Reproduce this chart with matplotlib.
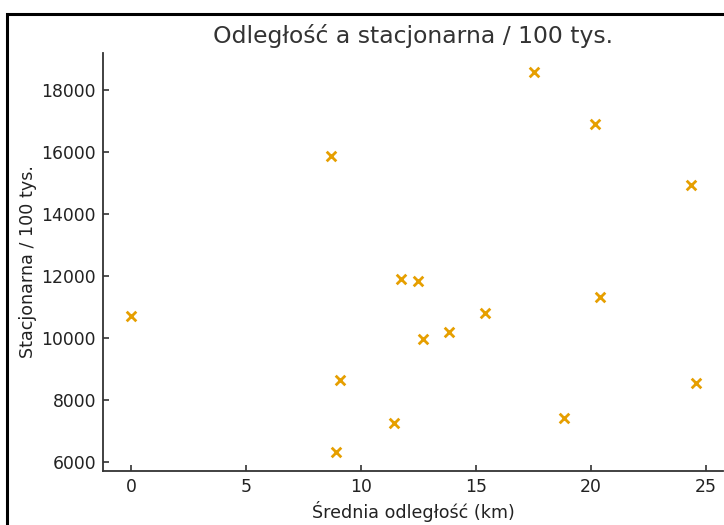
import matplotlib
matplotlib.use("Agg")
import matplotlib.pyplot as plt
from matplotlib.patches import Rectangle

plt.rcParams["font.family"] = ["DejaVu Sans"]

odleglosc = [0.0, 8.70, 9.09, 8.91, 11.42, 11.74, 12.48, 12.70, 13.83, 15.38,
             17.52, 18.84, 20.17, 20.41, 24.35, 24.57]
stacjonarna = [10710, 15870, 8645, 6323, 7268, 11913, 11850, 9968, 10203, 10806,
               18590, 7430, 16894, 11323, 14945, 8558]
xticks = [0, 5, 10, 15, 20, 25]
yticks = [6000, 8000, 10000, 12000, 14000, 16000, 18000]

W, H = 724, 525
fig = plt.figure(figsize=(W / 100, H / 100), dpi=100)
ax = fig.add_axes([103 / W, 1 - 471 / H, (723 - 103) / W, (471 - 53) / H])

ax.scatter(odleglosc, stacjonarna, marker="x", color="#E69F00", s=48, linewidths=2)

ax.set_xlim(-1.22, 25.74)
ax.set_ylim(5710, 19194)
ax.set_xticks(xticks)
ax.set_yticks(yticks)

tc = "#333333"
for s in ["top", "right"]:
    ax.spines[s].set_visible(False)
for s in ["left", "bottom"]:
    ax.spines[s].set_color(tc)
    ax.spines[s].set_linewidth(1.3)
ax.tick_params(direction="in", length=4, width=1.2, pad=5, color=tc,
               labelcolor="#222222", labelsize=12.4)

ax.set_title("Odległość a stacjonarna / 100 tys.", fontsize=16.9, color="#333333", pad=7)
ax.set_xlabel("Średnia odległość (km)", fontsize=12.6, color="#222222", labelpad=4)
ax.set_ylabel("Stacjonarna / 100 tys.", fontsize=12.6, color="#222222", labelpad=3)

fig.patches.append(Rectangle((7 / W, -0.2), 1.5, 1.2 - 14 / H, transform=fig.transFigure,
                             fill=False, edgecolor="black", linewidth=2.2, clip_on=False))

fig.savefig("out.png", dpi=100)
